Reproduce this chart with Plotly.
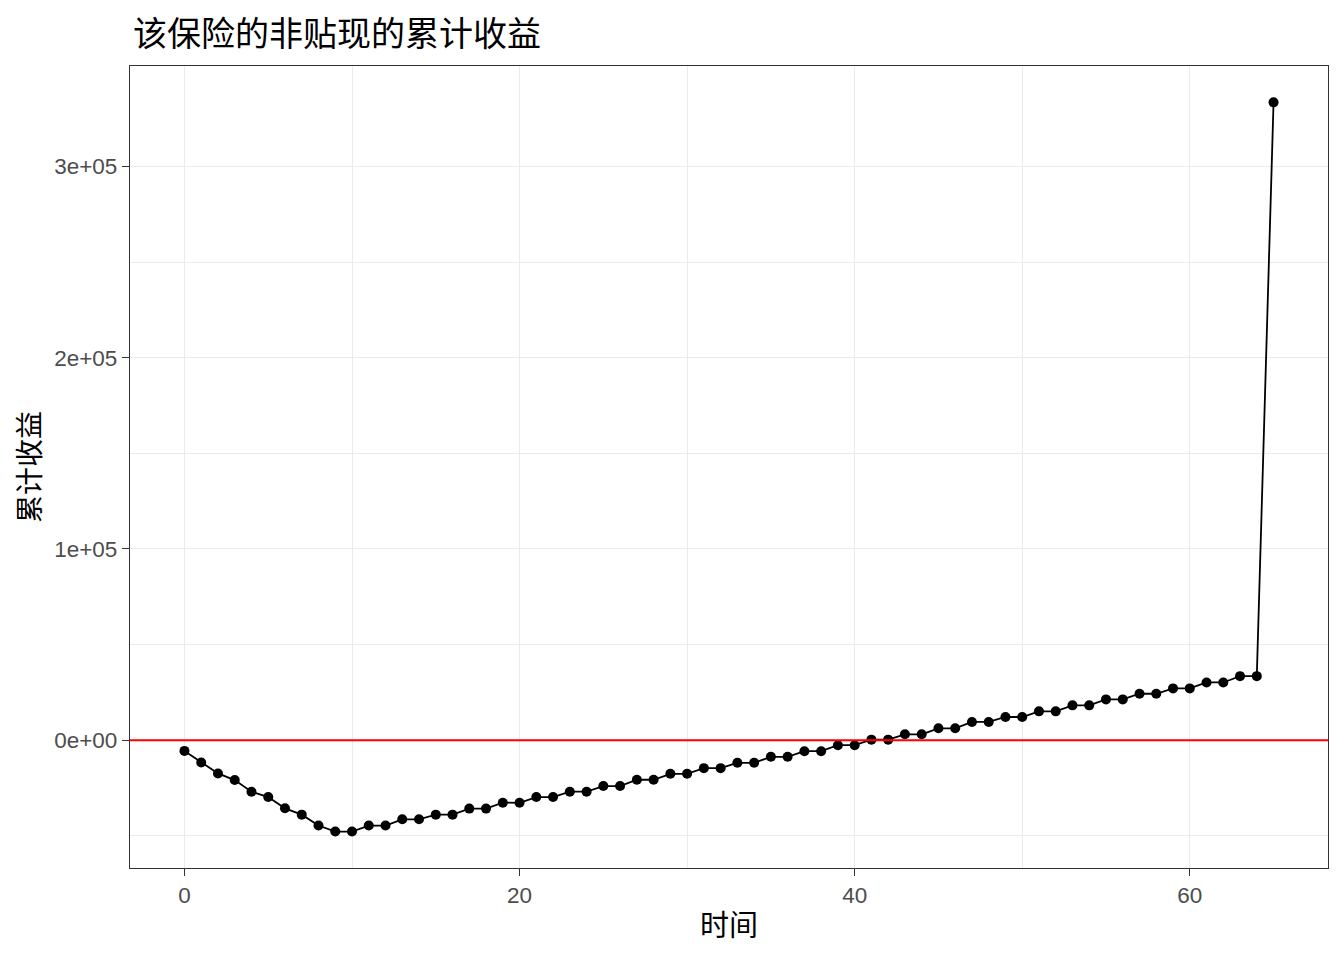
import plotly.graph_objects as go

years = list(range(0, 66))
cum_profit = [
    -5570, -11600, -17350, -20830, -26900, -29700, -35600, -38900, -44600, -47750,
    -47750, -44600, -44600, -41350, -41350, -38900, -38900, -35750, -35750, -32650,
    -32700, -29700, -29700, -26900, -26900, -23950, -23950, -20650, -20650, -17550,
    -17550, -14600, -14600, -11800, -11800, -8680, -8680, -5730, -5730, -2600,
    -2600, 300, 300, 3100, 3100, 6250, 6250, 9550, 9550, 12150,
    12150, 15100, 15100, 18230, 18230, 21350, 21350, 24300, 24300, 27100,
    27100, 30200, 30200, 33500, 33500, 333500,
]

y_major = [0, 100000, 200000, 300000]
y_major_labels = ["0e+00", "1e+05", "2e+05", "3e+05"]
x_major = [0, 20, 40, 60]

title_text = "该保险的非贴现的累计收益"
x_title = "时间"
y_title = "累计收益"

cjk = "Noto Sans CJK SC"
tick_font = dict(family="Liberation Sans, Arial", size=22.5, color="#4d4d4d")

W, H = 1336, 952

fig = go.Figure()
fig.add_trace(go.Scatter(
    x=years, y=cum_profit, mode="lines+markers",
    line=dict(color="black", width=1.8),
    marker=dict(color="black", size=10),
    showlegend=False,
))
fig.add_shape(type="line", xref="paper", x0=0, x1=1, yref="y", y0=0, y1=0,
              line=dict(color="#ff0000", width=1.8), layer="above")

fig.update_layout(
    width=W, height=H,
    margin=dict(l=122, r=16, t=58, b=92),
    paper_bgcolor="white", plot_bgcolor="white",
    title=dict(text=title_text, x=125 / W, xanchor="left", yref="container",
               y=1 - 26 / H, yanchor="middle",
               font=dict(family=cjk, size=34, color="black")),
    xaxis=dict(
        range=[-3.25, 68.25], tickvals=x_major, ticktext=[str(v) for v in x_major],
        showgrid=True, gridcolor="#ebebeb", gridwidth=1.3,
        minor=dict(tickvals=[10, 30, 50], showgrid=True, gridcolor="#ebebeb", gridwidth=0.7, ticks=""),
        ticks="outside", ticklen=7, tickcolor="#333333", tickwidth=1.2,
        showline=True, linecolor="#333333", linewidth=1.2, mirror=True,
        zeroline=False, tickfont=tick_font,
        title=dict(text=x_title, font=dict(family=cjk, size=29, color="black"), standoff=8),
    ),
    yaxis=dict(
        range=[-66800, 352500], tickvals=y_major, ticktext=y_major_labels,
        showgrid=True, gridcolor="#ebebeb", gridwidth=1.3,
        minor=dict(tickvals=[-50000, 50000, 150000, 250000], showgrid=True, gridcolor="#ebebeb", gridwidth=0.7, ticks=""),
        ticks="outside", ticklen=7, tickcolor="#333333", tickwidth=1.2,
        showline=True, linecolor="#333333", linewidth=1.2, mirror=True,
        zeroline=False, tickfont=tick_font,
        title=dict(text=y_title, font=dict(family=cjk, size=28, color="black"), standoff=8),
    ),
)

fig.write_html("out.html")
